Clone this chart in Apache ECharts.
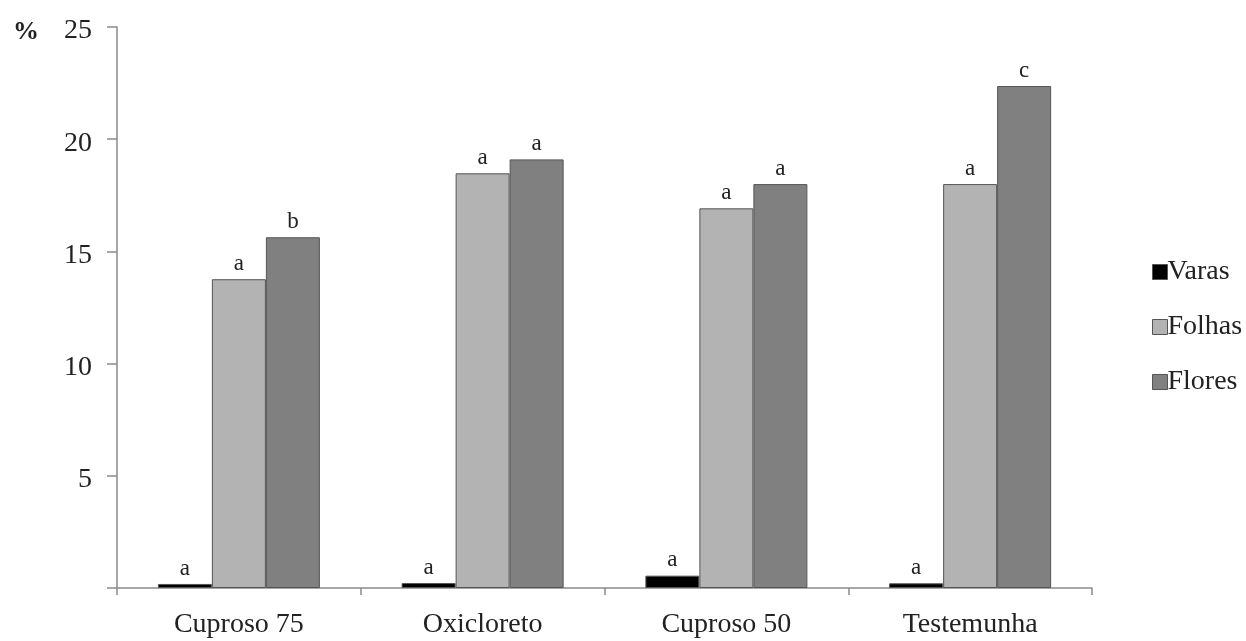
<!DOCTYPE html>
<html><head><meta charset="utf-8">
<script src="https://cdn.jsdelivr.net/npm/echarts@6/dist/echarts.min.js"></script>
<style>html,body{margin:0;padding:0;background:#fff}#c{width:1246px;height:641px}</style>
</head><body><div id="c"></div>
<script>
const categories = ['Cuproso 75', 'Oxicloreto', 'Cuproso 50', 'Testemunha'];
const varas = [0.18, 0.22, 0.55, 0.21];
const folhas = [13.76, 18.48, 16.92, 18.0];
const flores = [15.63, 19.1, 18.0, 22.37];
const varasLetters = ['a', 'a', 'a', 'a'];
const folhasLetters = ['a', 'a', 'a', 'a'];
const floresLetters = ['b', 'a', 'a', 'c'];
const yTicks = [5, 10, 15, 20, 25];

const serif = '"Liberation Serif", "DejaVu Serif", serif';
const axisColor = '#8a8a8a';
function mk(name, data, letters, color) {
  return {
    name, type: 'bar', data, barWidth: 54, barGap: '0%',
    itemStyle: { color, borderColor: '#555', borderWidth: 1 },
    label: { show: true, position: 'top', distance: 4, fontFamily: serif, fontSize: 23, color: '#222',
      formatter: p => letters[p.dataIndex] },
    emphasis: { disabled: true }
  };
}
const chart = echarts.init(document.getElementById('c'));
chart.setOption({
  animation: false,
  grid: { left: 117, right: 154, top: 27, bottom: 53 },
  graphic: [{ type: 'text', left: 13, top: 19, style: { text: '%', font: 'bold 26px ' + serif, fill: '#222' } }],
  legend: {
    orient: 'vertical', left: 1147, top: 252, itemWidth: 15, itemHeight: 15, itemGap: 25,
    icon: 'rect',
    itemStyle: { borderColor: '#555', borderWidth: 1 },
    textStyle: { fontFamily: serif, fontSize: 28, lineHeight: 30, color: '#222', padding: [0, 0, 0, -5] },
    data: ['Varas', 'Folhas', 'Flores']
  },
  xAxis: {
    type: 'category', data: categories,
    axisLine: { lineStyle: { color: axisColor, width: 1.5 } },
    axisTick: { show: true, length: 7, lineStyle: { color: axisColor, width: 1.5 } },
    axisLabel: { fontFamily: serif, fontSize: 28, color: '#222', margin: 23 }
  },
  yAxis: {
    type: 'value', min: 0, max: 25, interval: 5,
    splitLine: { show: false },
    axisLine: { show: true, lineStyle: { color: axisColor, width: 1.5 } },
    axisTick: { show: true, length: 10, lineStyle: { color: axisColor, width: 1.5 } },
    axisLabel: { fontFamily: serif, fontSize: 28, color: '#222', margin: 25,
      formatter: v => yTicks.includes(v) ? '{v|' + v + '}' : '',
      rich: { v: { fontFamily: serif, fontSize: 28, color: '#222', padding: [8, 0, 0, 0] } } }
  },
  series: [
    mk('Varas', varas, varasLetters, '#000000'),
    mk('Folhas', folhas, folhasLetters, '#b3b3b3'),
    mk('Flores', flores, floresLetters, '#808080')
  ]
});
</script></body></html>
